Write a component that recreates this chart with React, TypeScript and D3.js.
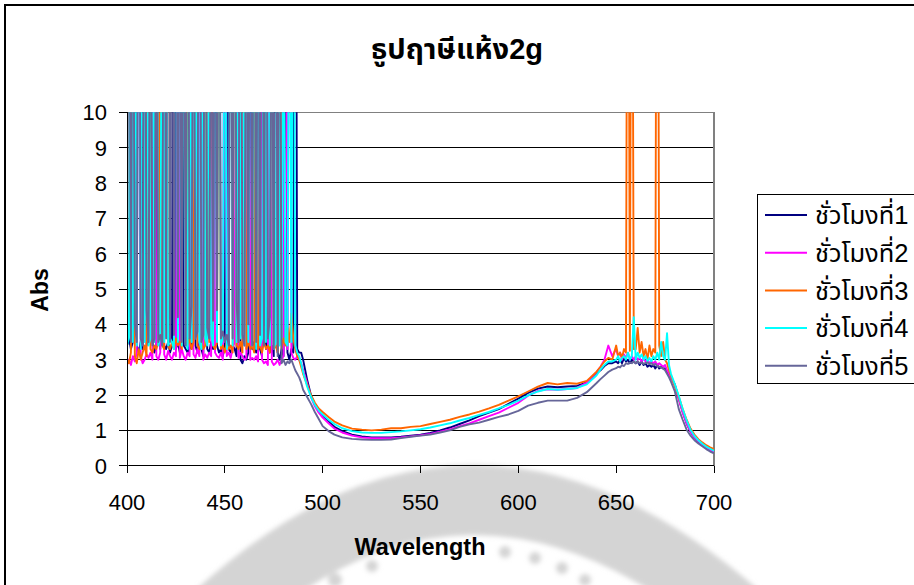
import React from "react";
import * as d3 from "d3";

// Wavelength grid (nm): 1 nm through the noisy blue end, coarser through the trough,
// 1 nm again around the red peak.
const WL_NOISY = d3.range(400, 491, 1);
const WL_MID = [492, 494, 496, 498, 500, 503, 506, 510, 515, 520, 525, 530, 535, 540, 545, 550, 555, 560, 565, 570, 575, 580, 585, 590, 595, 600, 605, 610, 615, 620, 625, 630, 635, 640];
const WL_PEAK = [642, 644, 646, 648, ...d3.range(650, 679, 1), 680, 682, 684, 686, 688, 690, 692, 694, 696, 698, 700];
const WAVELENGTHS = [...WL_NOISY, ...WL_MID, ...WL_PEAK];

const SERIES_NAMES = ["ชั่วโมงที่1", "ชั่วโมงที่2", "ชั่วโมงที่3", "ชั่วโมงที่4", "ชั่วโมงที่5"];
const SERIES_COLORS = ["#000080", "#ff00ff", "#ff6600", "#00ffff", "#666699"];

const X_TICKS = [400, 450, 500, 550, 600, 650, 700];
const Y_TICKS = [0, 1, 2, 3, 4, 5, 6, 7, 8, 9, 10];

const HOUR1 = [
  3.4, 3.6, 3.3, 3.5, 18, 3.4, 3.2, 3.5, 3.3, 22,
  3.4, 3.6, 16, 3.5, 3.2, 3.4, 20, 3.3, 5.2, 3.4,
  3.3, 3.5, 3.2, 3.4, 24, 3.3, 3.5, 3.2, 17, 3.4,
  3.3, 3.2, 3.4, 3.3, 21, 3.4, 3.2, 3.5, 3.3, 3.1,
  15, 3.3, 3.2, 3.5, 3.3, 19, 3.4, 3.2, 3.3, 3.1,
  3.4, 23, 3.3, 3.2, 3.4, 3.3, 3.1, 20, 3.0, 2.9,
  3.1, 3.0, 3.2, 16, 3.3, 3.5, 3.2, 3.4, 3.3, 3.1,
  18, 3.3, 4.9, 3.2, 3.4, 3.1, 22, 3.2, 3.0, 3.3,
  3.1, 17, 3.2, 3.0, 3.3, 3.2, 25, 3.3, 3.2, 3.2,
  3.0,
  2.45, 2.0, 1.72, 1.55, 1.42, 1.25, 1.1,
  0.98, 0.88, 0.83, 0.8, 0.8, 0.8, 0.82, 0.85, 0.88, 0.93, 1.0, 1.08, 1.18, 1.28,
  1.4, 1.5, 1.6, 1.75, 1.9, 2.06, 2.18, 2.24, 2.22, 2.24, 2.26, 2.36, 2.62,
  2.7, 2.82, 2.9, 2.9,
  2.95, 2.9, 3.0, 2.9, 3.05, 2.95, 3.0, 2.9, 3.0, 2.95,
  2.9, 2.95, 2.85, 2.95, 2.85, 2.9, 2.8, 2.85, 2.8, 2.85,
  2.75, 2.85, 2.75, 2.8, 2.75, 2.75, 2.65, 2.6, 2.5,
  2.3, 1.9, 1.52, 1.2, 0.96, 0.8, 0.68, 0.58, 0.5, 0.44, 0.38,
];

const HOUR2 = [
  2.9, 3.0, 2.85, 3.1, 2.95, 3.2, 19, 3.1, 2.9, 3.0,
  3.15, 3.05, 3.2, 3.0, 17, 3.1, 3.0, 3.2, 21, 3.15,
  3.0, 3.25, 3.1, 3.0, 3.2, 3.1, 16, 3.05, 3.3, 3.1,
  3.0, 3.2, 3.1, 18, 3.15, 3.05, 3.3, 3.1, 22, 3.0,
  3.15, 3.05, 3.2, 3.1, 15, 3.2, 3.1, 3.05, 3.2, 3.0,
  20, 3.1, 3.2, 3.05, 3.3, 3.5, 17, 3.05, 3.2, 3.1,
  3.0, 3.05, 23, 3.0, 3.05, 3.0, 3.1, 2.95, 18, 3.0,
  2.9, 2.95, 2.85, 16, 2.95, 2.85, 2.9, 3.0, 2.85, 3.0,
  3.1, 24, 3.3, 21, 3.2, 3.05, 3.0, 3.1, 3.0, 2.9,
  2.7,
  2.35, 1.95, 1.68, 1.5, 1.36, 1.2, 1.05,
  0.94, 0.85, 0.8, 0.78, 0.78, 0.78, 0.8, 0.83, 0.86, 0.9, 0.96, 1.03, 1.12, 1.2,
  1.3, 1.4, 1.5, 1.64, 1.78, 1.98, 2.12, 2.16, 2.15, 2.17, 2.2, 2.35, 2.65,
  2.8, 3.0, 3.4, 3.1,
  3.3, 3.1, 3.2, 3.0, 3.15, 3.05, 3.2, 3.0, 3.1, 3.0,
  3.1, 3.0, 3.05, 2.95, 3.05, 2.95, 3.0, 2.9, 2.95, 2.9,
  2.95, 2.85, 2.9, 2.85, 2.8, 2.85, 2.7, 2.6, 2.5,
  2.25, 1.88, 1.5, 1.2, 0.97, 0.8, 0.69, 0.6, 0.52, 0.45, 0.39,
];

const HOUR3 = [
  3.0, 2.9, 3.2, 18, 3.1, 2.9, 3.3, 3.0, 3.2, 3.4,
  3.1, 22, 3.3, 3.2, 3.4, 3.3, 3.5, 16, 3.4, 3.3,
  20, 3.4, 3.3, 3.5, 3.3, 3.6, 3.4, 3.5, 3.3, 25,
  24, 3.4, 3.6, 3.3, 3.5, 19, 3.4, 3.3, 3.5, 3.3,
  3.4, 21, 3.5, 23, 3.4, 3.3, 3.5, 17, 3.3, 3.4,
  3.2, 3.5, 3.3, 3.4, 3.2, 18, 3.4, 3.3, 3.5, 3.2,
  15, 3.3, 3.5, 3.3, 3.4, 3.2, 20, 3.3, 3.4, 3.2,
  3.5, 3.3, 3.4, 3.2, 16, 3.3, 3.4, 3.2, 19, 3.3,
  3.6, 3.4, 3.9, 3.5, 4.3, 3.6, 3.3, 3.1, 3.0, 2.8,
  2.6,
  2.3, 2.0, 1.78, 1.62, 1.52, 1.38, 1.25,
  1.14, 1.05, 1.02, 1.0, 1.02, 1.06, 1.06, 1.1, 1.12, 1.18, 1.24, 1.3, 1.38, 1.45,
  1.53, 1.62, 1.72, 1.84, 1.96, 2.1, 2.24, 2.34, 2.3, 2.34, 2.32, 2.4, 2.66,
  2.8, 2.95, 3.05, 3.0,
  3.4, 3.1, 3.2, 3.05, 3.3, 3.2, 24, 3.25, 22, 3.3,
  3.3, 3.9, 3.2, 3.5, 3.1, 3.3, 3.0, 3.4, 3.1, 3.3,
  3.2, 26, 3.4, 3.1, 3.5, 3.0, 2.9, 2.7, 2.55,
  2.25, 1.95, 1.6, 1.3, 1.05, 0.88, 0.75, 0.66, 0.58, 0.52, 0.47,
];

const HOUR4 = [
  3.4, 3.6, 21, 3.5, 17, 3.4, 20, 3.3, 19, 3.5,
  22, 3.4, 3.6, 18, 3.5, 20, 3.4, 3.6, 18, 3.5,
  16, 3.4, 3.6, 3.5, 3.3, 23, 3.5, 19, 3.4, 17,
  3.5, 3.3, 21, 3.5, 17, 3.6, 18, 3.5, 3.3, 22,
  3.6, 3.4, 15, 3.7, 3.4, 20, 3.5, 24, 3.4, 3.6,
  18, 3.3, 3.6, 21, 3.4, 19, 3.5, 20, 3.6, 23,
  3.4, 17, 3.5, 20, 3.4, 19, 3.3, 16, 3.4, 3.6,
  18, 3.5, 22, 3.4, 18, 3.3, 3.5, 21, 3.4, 3.6,
  15, 3.5, 3.4, 19, 3.5, 21, 3.4, 3.2, 3.1, 2.9,
  2.65,
  2.25, 1.95, 1.72, 1.56, 1.45, 1.3, 1.18,
  1.06, 0.98, 0.94, 0.93, 0.93, 0.95, 0.97, 1.0, 1.03, 1.08, 1.14, 1.2, 1.28, 1.35,
  1.44, 1.52, 1.62, 1.72, 1.84, 1.99, 2.1, 2.17, 2.15, 2.17, 2.2, 2.3, 2.56,
  2.72, 2.85, 2.95, 2.95,
  3.0, 3.1, 2.95, 3.05, 3.1, 3.0, 3.2, 3.0, 3.1, 4.2,
  3.0, 3.2, 3.05, 3.15, 3.0, 3.1, 2.95, 3.05, 2.95, 3.1,
  3.0, 3.2, 3.0, 3.5, 3.1, 3.0, 3.75, 2.85, 2.6,
  2.3, 1.98, 1.6, 1.28, 1.02, 0.84, 0.72, 0.62, 0.54, 0.48, 0.42,
];

const HOUR5 = [
  3.6, 20, 3.5, 18, 4.0, 3.5, 23, 3.6, 3.4, 19,
  4.4, 3.5, 18, 3.4, 3.6, 16, 3.5, 3.7, 3.4, 21,
  3.6, 24, 3.5, 19, 3.7, 20, 4.2, 17, 3.5, 18,
  3.4, 22, 3.6, 4.5, 18, 3.6, 3.8, 25, 3.5, 3.7,
  22, 3.9, 3.6, 16, 4.1, 17, 4.4, 21, 3.6, 3.8,
  3.5, 3.7, 3.4, 19, 3.6, 21, 4.6, 3.5, 23, 3.7,
  3.4, 17, 4.0, 20, 3.4, 22, 3.5, 18, 3.7, 24,
  3.4, 20, 3.6, 4.2, 16, 3.3, 21, 3.1, 19, 2.9,
  3.0, 2.85, 2.95, 2.9, 3.0, 2.85, 2.7, 2.6, 2.5, 2.35,
  2.15,
  1.95, 1.75, 1.52, 1.32, 1.12, 0.98, 0.88,
  0.8, 0.76, 0.74, 0.73, 0.73, 0.74, 0.78, 0.82, 0.85, 0.88, 0.94, 1.0, 1.1, 1.17,
  1.22, 1.3, 1.38, 1.45, 1.55, 1.7, 1.78, 1.84, 1.84, 1.84, 1.92, 2.08, 2.34,
  2.45, 2.55, 2.65, 2.72,
  2.76, 2.8, 2.78, 2.85, 2.82, 2.9, 2.88, 2.92, 2.9, 2.95,
  2.9, 2.95, 2.9, 2.92, 2.88, 2.9, 2.92, 2.88, 2.9, 2.85,
  2.88, 2.82, 2.8, 2.78, 2.75, 2.7, 2.6, 2.5, 2.38,
  2.1, 1.6, 1.3, 1.02, 0.85, 0.72, 0.63, 0.55, 0.47, 0.4, 0.35,
];

const SERIES = [HOUR1, HOUR2, HOUR3, HOUR4, HOUR5];

const W = 914;
const H = 585;
const PLOT = { left: 127, right: 714, top: 112.3, bottom: 465.7 };
const FONT = "'Liberation Sans', Arial, 'Noto Sans Thai', Tahoma, 'DejaVu Sans', sans-serif";

export default function App() {
  const x = d3.scaleLinear().domain([400, 700]).range([PLOT.left, PLOT.right]);
  const y = d3.scaleLinear().domain([0, 10]).range([PLOT.bottom, PLOT.top]);
  const line = d3
    .line<number>()
    .x((_, i) => x(WAVELENGTHS[i]))
    .y((d) => y(d));

  const legendTop = 194;
  const legendStep = 37.7;

  return (
    <svg
      width={W}
      height={H}
      viewBox={`0 0 ${W} ${H}`}
      style={{ position: "absolute", left: 0, top: 0, background: "#fff" }}
      fontFamily={FONT}
    >
      <defs>
        <clipPath id="plot-clip">
          <rect x={PLOT.left} y={PLOT.top} width={PLOT.right - PLOT.left} height={PLOT.bottom - PLOT.top} />
        </clipPath>
        <filter id="soft" x="-10%" y="-10%" width="120%" height="120%">
          <feGaussianBlur stdDeviation="2.5" />
        </filter>
      </defs>
      <rect x={0} y={0} width={W} height={H} fill="#fff" />

      {/* faint emblem printed on the page behind the chart */}
      <g filter="url(#soft)" fill="#d4d4d4">
        <path d="M185,600 Q470,330 770,600 L665,600 Q470,470 290,600 Z" />
        <circle cx={335} cy={580} r={7} />
        <circle cx={372} cy={566} r={6} />
        <circle cx={505} cy={552} r={6} />
        <circle cx={535} cy={558} r={6} />
        <circle cx={562} cy={568} r={6} />
        <circle cx={585} cy={580} r={6} />
      </g>

      {/* chart area frame */}
      <rect x={5} y={5} width={915} height={600} fill="none" stroke="#000" strokeWidth={2} />

      {/* title */}
      <text x={457} y={59} textAnchor="middle" fontSize={29} fontWeight="bold" fill="#000">
        ธูปฤาษีแห้ง2g
      </text>

      {/* horizontal gridlines */}
      {Y_TICKS.filter((t) => t > 0 && t < 10).map((t) => (
        <line key={t} x1={PLOT.left} x2={PLOT.right} y1={y(t)} y2={y(t)} stroke="#000" strokeWidth={1} shapeRendering="crispEdges" />
      ))}
      {/* plot area top and right border */}
      <polyline
        points={`${PLOT.left},${y(10)} ${PLOT.right},${y(10)} ${PLOT.right},${PLOT.bottom}`}
        fill="none"
        stroke="#808080"
        strokeWidth={1.5}
        shapeRendering="crispEdges"
      />

      {/* series */}
      <g clipPath="url(#plot-clip)">
        {SERIES.map((s, i) => (
          <path key={i} d={line(s) || ""} fill="none" stroke={SERIES_COLORS[i]} strokeWidth={1.9} strokeLinejoin="round" />
        ))}
      </g>

      {/* axes */}
      <line x1={PLOT.left} x2={PLOT.left} y1={PLOT.top} y2={PLOT.bottom + 7} stroke="#000" strokeWidth={1} shapeRendering="crispEdges" />
      <line x1={PLOT.left - 8} x2={PLOT.right} y1={PLOT.bottom} y2={PLOT.bottom} stroke="#000" strokeWidth={1} shapeRendering="crispEdges" />
      {Y_TICKS.map((t) => (
        <g key={t}>
          <line x1={PLOT.left - 8} x2={PLOT.left} y1={y(t)} y2={y(t)} stroke="#000" strokeWidth={1} shapeRendering="crispEdges" />
          <text x={107} y={y(t)} dy="0.36em" textAnchor="end" fontSize={22} fill="#000">
            {t}
          </text>
        </g>
      ))}
      {X_TICKS.map((t) => (
        <g key={t}>
          <line x1={x(t)} x2={x(t)} y1={PLOT.bottom} y2={PLOT.bottom + 7} stroke="#000" strokeWidth={1} shapeRendering="crispEdges" />
          <text x={x(t)} y={510} textAnchor="middle" fontSize={22} fill="#000">
            {t}
          </text>
        </g>
      ))}

      {/* axis titles */}
      <text x={420} y={555} textAnchor="middle" fontSize={23.5} fontWeight="bold" fill="#000">
        Wavelength
      </text>
      <text transform="translate(48,290) rotate(-90)" textAnchor="middle" fontSize={23} fontWeight="bold" fill="#000">
        Abs
      </text>

      {/* legend */}
      <rect x={757} y={legendTop} width={170} height={189} fill="#fff" stroke="#000" strokeWidth={1} shapeRendering="crispEdges" />
      {SERIES_NAMES.map((name, i) => {
        const cy = legendTop + 21 + i * legendStep;
        return (
          <g key={name}>
            <line x1={765} x2={807} y1={cy} y2={cy} stroke={SERIES_COLORS[i]} strokeWidth={2} />
            <text x={815} y={cy} dy="0.36em" fontSize={25.5} fill="#000">
              {name}
            </text>
          </g>
        );
      })}
    </svg>
  );
}
